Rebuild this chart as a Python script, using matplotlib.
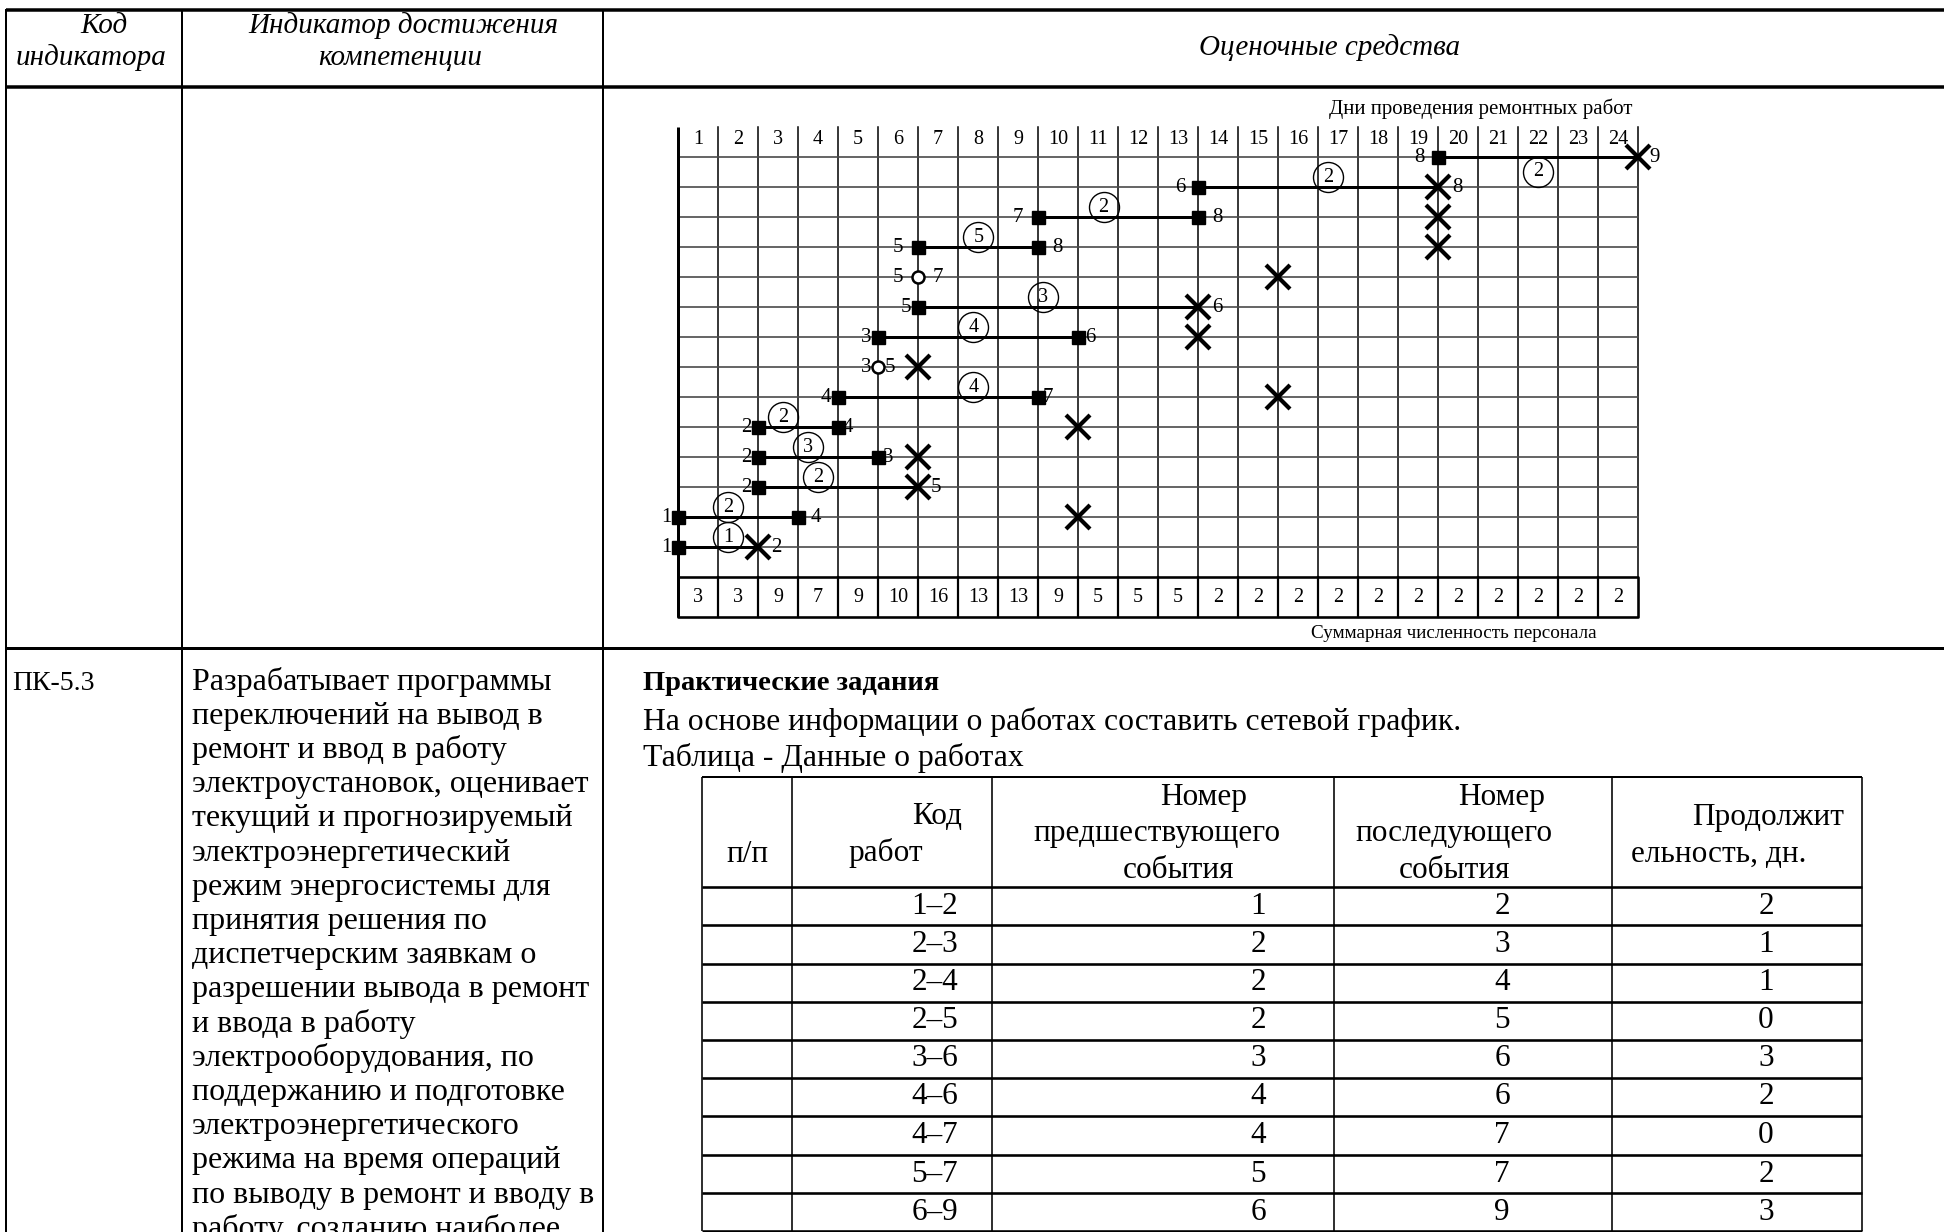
import numpy as np
import matplotlib
matplotlib.use("Agg")
import matplotlib.pyplot as plt

plt.rcParams["font.family"] = ["Liberation Serif", "DejaVu Serif"]

# =========================
# Данные сетевого графика
# =========================
days = list(range(1, 25))
staff_total = [3, 3, 9, 7, 9, 10, 16, 13, 13, 9, 5, 5, 5,
               2, 2, 2, 2, 2, 2, 2, 2, 2, 2, 2]

# строки графика сверху вниз
rows = list(range(1, 15))
start_day = [19, 13, 9, 6, 6, 6, 5, 5, 4, 2, 2, 2, 0, 0]
end_day = [24, 19, 13, 9, 6, 13, 10, 5, 9, 4, 5, 6, 3, 2]
start_event = [8, 6, 7, 5, 5, 5, 3, 3, 4, 2, 2, 2, 1, 1]
end_event = [9, 8, 8, 8, 7, 6, 6, 5, 7, 4, 3, 5, 4, 2]
duration = [2, 2, 2, 5, 0, 3, 4, 0, 4, 2, 3, 2, 2, 1]
end_kind = ["x", "x", "s", "s", "o", "x", "s", "o", "s", "s", "s", "x", "s", "x"]
label_day = [21.5, 16.26, 10.64, 7.51, np.nan, 9.13, 7.38, np.nan,
             7.38, 2.63, 3.26, 3.51, 1.26, 1.26]

# отдельные крестики (резервы)
extra_rows = [3, 4, 5, 7, 8, 9, 10, 11, 13]
extra_days = [19, 19, 15, 13, 6, 15, 10, 6, 10]

# =========================
# Данные таблицы работ
# =========================
work_codes = ["1–2", "2–3", "2–4", "2–5", "3–6", "4–6", "4–7", "5–7", "6–9"]
prev_event = [1, 2, 2, 2, 3, 4, 4, 5, 6]
next_event = [2, 3, 4, 5, 6, 6, 7, 7, 9]
work_days = [2, 1, 1, 0, 3, 2, 0, 2, 3]

indicator_text = [
    "Разрабатывает программы",
    "переключений на вывод в",
    "ремонт и ввод в работу",
    "электроустановок, оценивает",
    "текущий и прогнозируемый",
    "электроэнергетический",
    "режим энергосистемы для",
    "принятия решения по",
    "диспетчерским заявкам о",
    "разрешении вывода в ремонт",
    "и ввода в работу",
    "электрооборудования, по",
    "поддержанию и подготовке",
    "электроэнергетического",
    "режима на время операций",
    "по выводу в ремонт и вводу в",
    "работу, созданию наиболее",
]

# стиль: смещения подписей событий, px
left_gap = [19, 18, 20, 20, 20, 12, 12, 12, 12, 12, 12, 12, 12, 12]
right_gap = [17, 19, 19, 19, 20, 19, 12, 12, 10, 10, 10, 18, 18, 18]
label_dy = [15, -10, -10, -10, 0, -10, -10, 0, -10, -10, -10, -10, -10, -10]

W, H = 1944, 1232
PX = 0.72  # px -> pt при dpi=100

fig = plt.figure(figsize=(W / 100, H / 100), dpi=100)
page = fig.add_axes([0, 0, 1, 1])
page.set_xlim(0, W)
page.set_ylim(H, 0)
page.axis("off")


def seg(x0, y0, x1, y1, lw_px, color="black"):
    page.plot([x0, x1], [y0, y1], color=color, lw=lw_px * PX,
              solid_capstyle="butt")


# ---- внешняя таблица документа
COL1, COL2 = 182, 603
seg(6, 10, W, 10, 3.5)
seg(6, 87, W, 87, 3.5)
seg(6, 648, W, 648, 3)
for x in (6, COL1, COL2):
    seg(x, 9, x, H, 2)

hdr = dict(fontsize=21, style="italic", ha="center", va="center")
page.text(104, 26, "Код", **hdr)
page.text(91, 58, "индикатора", **hdr)
page.text(403, 26, "Индикатор достижения", **hdr)
page.text(400, 58, "компетенции", **hdr)
page.text(1330, 48, "Оценочные средства", **hdr)

body = dict(fontsize=23, va="center")
page.text(12, 683, "ПК-5.3", fontsize=20, va="center")
for i, line in enumerate(indicator_text):
    page.text(192, 682 + 34.2 * i, line, **body)

rt = dict(fontsize=22.8, va="center")
page.text(643, 684, "Практические задания", fontweight="bold",
          fontsize=20.5, va="center")
page.text(643, 722, "На основе информации о работах составить сетевой график.", **rt)
page.text(643, 758, "Таблица - Данные о работах", **rt)

# ---- таблица "Данные о работах"
col_x = [702, 792, 992, 1334, 1612, 1862]
row_y = [777, 887, 925, 963.5, 1001.8, 1040, 1078, 1116, 1155, 1193, 1231]
for x in col_x:
    seg(x, row_y[0], x, row_y[-1], 1.6)
for k, y in enumerate(row_y):
    seg(col_x[0], y, col_x[-1], y, 2.0 if k == 0 else 2.6)

th = dict(fontsize=22.5, va="center")
page.text(747, 855, "п/п", ha="center", **th)
page.text(962, 817, "Код", ha="right", **th)
page.text(848, 853, "работ", ha="left", **th)
page.text(1204, 797, "Номер", ha="center", **th)
page.text(1157, 833, "предшествующего", ha="center", **th)
page.text(1178, 870, "события", ha="center", **th)
page.text(1502, 797, "Номер", ha="center", **th)
page.text(1454, 833, "последующего", ha="center", **th)
page.text(1454, 870, "события", ha="center", **th)
page.text(1768, 817, "Продолжит", ha="center", **th)
page.text(1719, 855, "ельность, дн.", ha="center", **th)

for i in range(len(work_codes)):
    yc = (row_y[i + 1] + row_y[i + 2]) / 2
    page.text(958, yc, work_codes[i], ha="right", **th)
    page.text(1258, yc, str(prev_event[i]), ha="center", **th)
    page.text(1502, yc, str(next_event[i]), ha="center", **th)
    page.text(1766, yc, str(work_days[i]), ha="center", **th)

# ---- подписи графика
page.text(1632, 109, "Дни проведения ремонтных работ", fontsize=15,
          ha="right", va="center")
page.text(1597, 633, "Суммарная численность персонала", fontsize=13.8,
          ha="right", va="center")

# =========================
# Сетевой график
# =========================
ax = fig.add_axes([678 / W, 1 - 617 / H, 960 / W, 490 / H])
ax.set_xlim(0, 24)
ax.set_ylim(490 / 30, 0)
ax.axis("off")
n_days = len(days)
y_tab0, y_tab1 = 15, 490 / 30

for d in days:
    ax.plot([d, d], [0, y_tab0], color="black", lw=1.1, clip_on=False)
for r in rows:
    ax.plot([0, n_days], [r, r], color="#4a4a4a", lw=1.2, clip_on=False)
ax.plot([0, 0], [0, y_tab1], color="black", lw=3 * PX, clip_on=False,
        solid_capstyle="butt")

# нижняя таблица численности
ax.plot([0, n_days, n_days, 0, 0], [y_tab0, y_tab0, y_tab1, y_tab1, y_tab0],
        color="black", lw=2.6 * PX, clip_on=False)
for d in days[:-1]:
    ax.plot([d, d], [y_tab0, y_tab1], color="black", lw=2.2 * PX, clip_on=False)

for d, n in zip(days, staff_total):
    ax.text(d - 0.5, 0.4, str(d), fontsize=14.5, ha="center", va="center")
    ax.text(d - 0.5, (y_tab0 + y_tab1) / 2, str(n), fontsize=14.5,
            ha="center", va="center")

ev = dict(fontsize=15, va="center", ha="center", textcoords="offset points")
for i, r in enumerate(rows):
    s, e = start_day[i], end_day[i]
    if end_kind[i] == "o":
        ax.plot(s, r, marker="o", ms=12 * PX, mfc="white", mec="black",
                mew=2.5 * PX, zorder=4, clip_on=False)
        ax.annotate(str(start_event[i]), (s, r), xytext=(-left_gap[i] * PX, 0), **ev)
        ax.annotate(str(end_event[i]), (e, r), xytext=(right_gap[i] * PX, 0), **ev)
        continue
    ax.plot([s, e], [r, r], color="black", lw=3 * PX, zorder=3,
            solid_capstyle="butt", clip_on=False)
    ax.plot(s, r, marker="s", ms=13 * PX, color="black", zorder=4, clip_on=False)
    if end_kind[i] == "s":
        ax.plot(e, r, marker="s", ms=13 * PX, color="black", zorder=4,
                clip_on=False)
    else:
        ax.plot(e, r, marker="x", ms=24 * PX, mew=4.2 * PX, color="black",
                zorder=4, clip_on=False)
    ax.annotate(str(start_event[i]), (s, r), xytext=(-left_gap[i] * PX, 0), **ev)
    ax.annotate(str(end_event[i]), (e, r), xytext=(right_gap[i] * PX, 0), **ev)
    # продолжительность в кружке
    cy = r + label_dy[i] / 30
    ax.plot(label_day[i], cy, marker="o", ms=30 * PX, mfc="none", mec="black",
            mew=1.0, zorder=4, clip_on=False)
    ax.text(label_day[i], cy, str(duration[i]), fontsize=14.5, ha="center",
            va="center", zorder=5)

for r, d in zip(extra_rows, extra_days):
    ax.plot(d, r, marker="x", ms=24 * PX, mew=4.2 * PX, color="black",
            zorder=4, clip_on=False)

fig.savefig("out.png", dpi=100)
